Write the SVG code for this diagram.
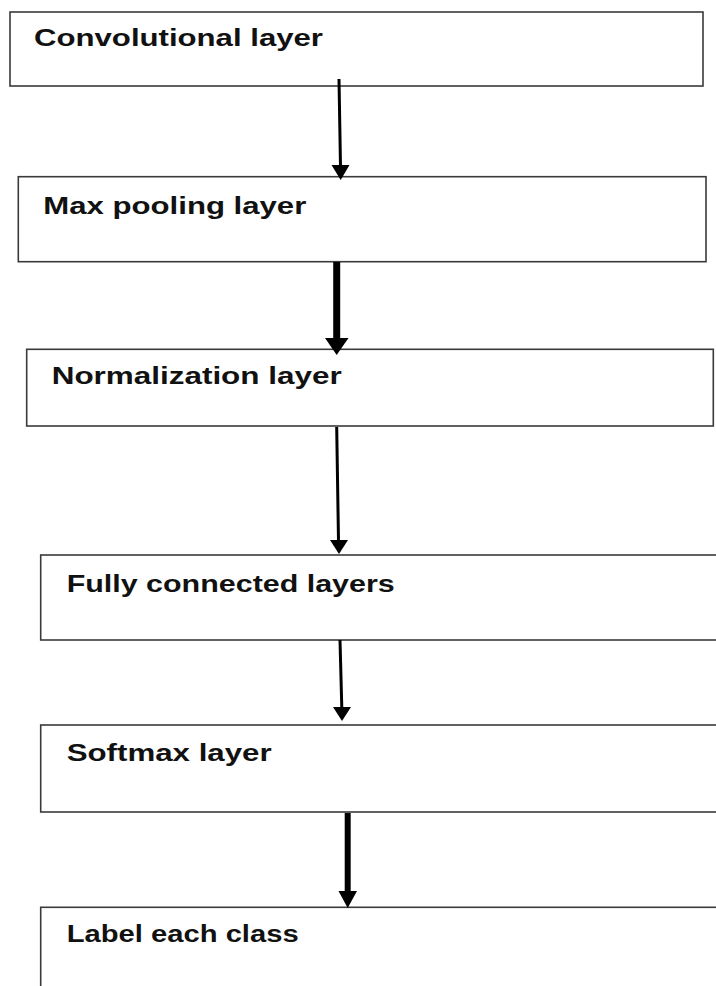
<svg xmlns="http://www.w3.org/2000/svg" width="716" height="986" viewBox="0 0 716 986">
<style>
.box{fill:#fff;stroke:#3a3a3a;stroke-width:1.6}
.lbl{font-family:"Liberation Sans",Arial,sans-serif;font-weight:bold;font-size:23px;fill:#111}
.ln{stroke:#000;fill:none}
.hd{fill:#000}
</style>
<rect width="716" height="986" fill="#fff"/>
<g id="node-conv">
<rect class="box" x="10" y="12" width="693" height="74"/>
<text class="lbl" x="34" y="45.5" textLength="289" lengthAdjust="spacingAndGlyphs">Convolutional layer</text>
</g>
<g id="node-maxpool">
<rect class="box" x="18.3" y="176.7" width="687.7" height="85"/>
<text class="lbl" x="43.3" y="213.5" textLength="263" lengthAdjust="spacingAndGlyphs">Max pooling layer</text>
</g>
<g id="node-norm">
<rect class="box" x="26.7" y="349.3" width="686.6" height="76.7"/>
<text class="lbl" x="51.7" y="383.5" textLength="290" lengthAdjust="spacingAndGlyphs">Normalization layer</text>
</g>
<g id="node-fc">
<rect class="box" x="40.7" y="555" width="700" height="85"/>
<text class="lbl" x="66.7" y="592" textLength="328" lengthAdjust="spacingAndGlyphs">Fully connected layers</text>
</g>
<g id="node-softmax">
<rect class="box" x="40.7" y="725" width="700" height="87"/>
<text class="lbl" x="66.7" y="761" textLength="205" lengthAdjust="spacingAndGlyphs">Softmax layer</text>
</g>
<g id="node-label">
<rect class="box" x="40.7" y="907.3" width="700" height="100"/>
<text class="lbl" x="66.7" y="942" textLength="232" lengthAdjust="spacingAndGlyphs">Label each class</text>
</g>
<g id="connectors">
<line class="ln" x1="339" y1="79" x2="340.5" y2="167" stroke-width="3"/>
<polygon class="hd" points="331.5,165 349.5,165 340.7,180"/>
<line class="ln" x1="336.7" y1="262" x2="336.7" y2="340" stroke-width="7"/>
<polygon class="hd" points="325,338 348.5,338 336.7,355"/>
<line class="ln" x1="336.7" y1="427" x2="338.5" y2="541" stroke-width="3"/>
<polygon class="hd" points="330,540 348,540 339,554"/>
<line class="ln" x1="340" y1="640" x2="341.8" y2="708" stroke-width="3"/>
<polygon class="hd" points="333,707 351,707 342,721"/>
<line class="ln" x1="347.7" y1="813" x2="347.7" y2="893" stroke-width="6"/>
<polygon class="hd" points="338.5,891 357,891 347.7,908"/>
</g>
</svg>
